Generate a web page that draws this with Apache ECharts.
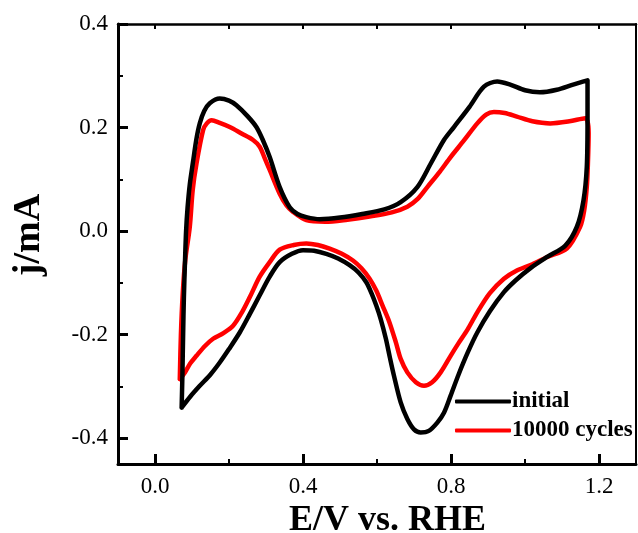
<!DOCTYPE html>
<html>
<head>
<meta charset="utf-8">
<script src="https://cdn.jsdelivr.net/npm/echarts@6/dist/echarts.min.js"></script>
<style>html,body{margin:0;padding:0;background:#fff}#c{width:638px;height:533px}</style>
</head>
<body>
<div id="c"></div>
<script>
const seriesNames = ['initial', '10000 cycles'];
const xMajorTicks = [0, 0.4, 0.8, 1.2];
const xMinorTicks = [0.2, 0.6, 1.0];
const xTopTicks = [0, 0.2, 0.4, 0.6, 0.8, 1.0, 1.2];
const yMajorTicks = [-0.4, -0.2, 0, 0.2, 0.4];
const yMinorTicks = [-0.3, -0.1, 0.1, 0.3];

const initialCurve = [
  [0.072,-0.341],[0.074,-0.28],[0.076,-0.2],[0.078,-0.13],[0.081,-0.06],[0.084,0.0],
  [0.088,0.045],[0.094,0.09],[0.103,0.135],[0.112,0.178],[0.121,0.208],[0.133,0.232],[0.148,0.247],
  [0.175,0.256],[0.2,0.252],[0.22,0.243],[0.25,0.222],[0.274,0.201],[0.292,0.175],
  [0.31,0.143],[0.337,0.085],[0.364,0.046],[0.385,0.033],[0.409,0.027],[0.445,0.023],
  [0.5,0.026],[0.56,0.033],[0.62,0.042],[0.664,0.056],[0.709,0.085],[0.745,0.13],
  [0.781,0.176],[0.808,0.201],[0.85,0.24],[0.889,0.279],[0.925,0.289],[0.96,0.283],
  [1.0,0.272],[1.04,0.268],[1.086,0.273],[1.13,0.283],[1.169,0.291],[1.169,0.22],
  [1.167,0.124],[1.158,0.059],[1.14,0.008],[1.109,-0.028],[1.06,-0.05],[1.014,-0.072],
  [0.975,-0.095],[0.943,-0.118],[0.905,-0.155],[0.871,-0.196],[0.845,-0.235],[0.82,-0.278],
  [0.799,-0.318],[0.781,-0.351],[0.763,-0.37],[0.74,-0.386],[0.718,-0.389],[0.7,-0.383],
  [0.682,-0.363],[0.664,-0.331],[0.646,-0.28],
  [0.635,-0.245],[0.624,-0.208],[0.61,-0.17],[0.598,-0.144],[0.585,-0.12],[0.571,-0.099],
  [0.55,-0.08],[0.526,-0.066],[0.495,-0.053],[0.463,-0.044],[0.43,-0.038],[0.4,-0.037],
  [0.37,-0.044],[0.337,-0.06],[0.31,-0.088],[0.283,-0.124],[0.255,-0.162],
  [0.229,-0.196],[0.2,-0.228],[0.175,-0.254],[0.15,-0.277],[0.121,-0.299],[0.095,-0.32],
  [0.072,-0.341]
];

const cyclesCurve = [
  [0.067,-0.286],[0.07,-0.2],[0.075,-0.12],[0.082,-0.055],[0.094,0.008],[0.102,0.08],
  [0.112,0.13],[0.13,0.195],[0.14,0.208],[0.153,0.214],[0.175,0.209],[0.202,0.201],
  [0.235,0.188],[0.265,0.176],[0.283,0.163],[0.297,0.14],[0.31,0.118],[0.337,0.072],
  [0.355,0.05],[0.373,0.037],[0.409,0.021],
  [0.46,0.018],[0.52,0.022],[0.58,0.028],[0.64,0.036],[0.682,0.047],[0.71,0.062],
  [0.736,0.085],[0.77,0.115],[0.799,0.143],[0.835,0.175],[0.871,0.208],[0.895,0.225],
  [0.916,0.23],[0.945,0.228],[0.978,0.221],[1.02,0.212],[1.068,0.208],[1.12,0.212],
  [1.163,0.218],[1.172,0.189],[1.17,0.13],[1.167,0.085],[1.16,0.04],[1.149,0.008],
  [1.113,-0.034],[1.06,-0.05],[1.02,-0.064],[0.978,-0.076],[0.943,-0.092],[0.905,-0.12],
  [0.871,-0.157],[0.845,-0.19],[0.82,-0.217],[0.799,-0.241],[0.772,-0.273],[0.749,-0.292],
  [0.727,-0.299],[0.705,-0.292],[0.682,-0.273],[0.664,-0.247],[0.651,-0.215],[0.633,-0.175],
  [0.615,-0.144],[0.598,-0.115],[0.58,-0.092],[0.558,-0.072],[0.535,-0.057],[0.505,-0.044],
  [0.472,-0.034],[0.44,-0.027],[0.409,-0.024],[0.375,-0.027],[0.337,-0.036],[0.31,-0.06],
  [0.283,-0.088],[0.256,-0.128],[0.235,-0.157],[0.211,-0.183],[0.185,-0.197],[0.157,-0.208],
  [0.135,-0.222],[0.112,-0.241],[0.095,-0.256],[0.081,-0.273],[0.067,-0.286]
];

const FONT = '"Liberation Serif","Times New Roman",serif';
const X_MIN = -0.1, X_MAX = 1.3, Y_MIN = -0.45, Y_MAX = 0.4;
const gridBox = { left: 118, right: 2, top: 24, bottom: 69, containLabel: false, outerBoundsMode: 'none' };

const chart = echarts.init(document.getElementById('c'), null, { renderer: 'canvas' });
chart.setOption({
  animation: false,
  backgroundColor: '#fff',
  grid: [Object.assign({}, gridBox), Object.assign({}, gridBox)],
  xAxis: [
    {
      gridIndex: 0, type: 'value', position: 'bottom', min: X_MIN, max: X_MAX,
      axisLine: { show: true, onZero: false, lineStyle: { color: '#000', width: 3 } },
      axisTick: { show: true, inside: true, length: 10, lineStyle: { color: '#000', width: 3 }, customValues: xMajorTicks },
      axisLabel: { show: true, customValues: xMajorTicks, formatter: v => v.toFixed(1), color: '#000', fontFamily: FONT, fontSize: 23, margin: 11 },
      splitLine: { show: false },
      name: 'E/V vs. RHE', nameLocation: 'middle', nameGap: 31,
      nameTextStyle: { color: '#000', fontFamily: FONT, fontSize: 36, fontWeight: 'bold', padding: [0, 0, 0, 21] }
    },
    {
      gridIndex: 0, type: 'value', position: 'top', min: X_MIN, max: X_MAX,
      axisLine: { show: true, onZero: false, lineStyle: { color: '#000', width: 2.5 } },
      axisTick: { show: true, inside: true, length: 5, lineStyle: { color: '#000', width: 2 }, customValues: xTopTicks },
      axisLabel: { show: false }, splitLine: { show: false }
    },
    {
      gridIndex: 1, type: 'value', position: 'bottom', min: X_MIN, max: X_MAX,
      axisLine: { show: false, onZero: false },
      axisTick: { show: true, inside: true, length: 5, lineStyle: { color: '#000', width: 2 }, customValues: xMinorTicks },
      axisLabel: { show: false }, splitLine: { show: false }
    }
  ],
  yAxis: [
    {
      gridIndex: 0, type: 'value', position: 'left', min: Y_MIN, max: Y_MAX,
      axisLine: { show: true, onZero: false, lineStyle: { color: '#000', width: 3 } },
      axisTick: { show: true, inside: true, length: 10, lineStyle: { color: '#000', width: 3 }, customValues: yMajorTicks },
      axisLabel: { show: true, customValues: yMajorTicks, formatter: v => v.toFixed(1), color: '#000', fontFamily: FONT, fontSize: 23, margin: 10 },
      splitLine: { show: false },
      name: 'j/mA', nameLocation: 'middle', nameGap: 70,
      nameTextStyle: { color: '#000', fontFamily: FONT, fontSize: 38, fontWeight: 'bold', padding: [0, 0, 0, 18] }
    },
    {
      gridIndex: 0, type: 'value', position: 'right', min: Y_MIN, max: Y_MAX,
      axisLine: { show: true, onZero: false, lineStyle: { color: '#000', width: 2 } },
      axisTick: { show: false }, axisLabel: { show: false }, splitLine: { show: false }
    },
    {
      gridIndex: 1, type: 'value', position: 'left', min: Y_MIN, max: Y_MAX,
      axisLine: { show: false, onZero: false },
      axisTick: { show: true, inside: true, length: 5, lineStyle: { color: '#000', width: 2 }, customValues: yMinorTicks },
      axisLabel: { show: false }, splitLine: { show: false }
    }
  ],
  legend: {
    orient: 'vertical', left: 450, top: 385,
    data: [seriesNames[0], seriesNames[1]],
    icon: 'roundRect', itemWidth: 56, itemHeight: 4, itemGap: 6,
    textStyle: { color: '#000', fontFamily: FONT, fontSize: 23, fontWeight: 'bold', lineHeight: 23, padding: [0, 0, 0, -4] }
  },
  series: [
    {
      name: seriesNames[1], type: 'line', xAxisIndex: 0, yAxisIndex: 0,
      data: cyclesCurve, showSymbol: false, symbol: 'none', smooth: 0.3,
      lineStyle: { color: '#ff0000', width: 4.5, join: 'round', cap: 'round' },
      itemStyle: { color: '#ff0000' }
    },
    {
      name: seriesNames[0], type: 'line', xAxisIndex: 0, yAxisIndex: 0,
      data: initialCurve, showSymbol: false, symbol: 'none', smooth: 0.3,
      lineStyle: { color: '#000000', width: 4.5, join: 'round', cap: 'round' },
      itemStyle: { color: '#000000' }
    }
  ]
});
</script>
</body>
</html>
